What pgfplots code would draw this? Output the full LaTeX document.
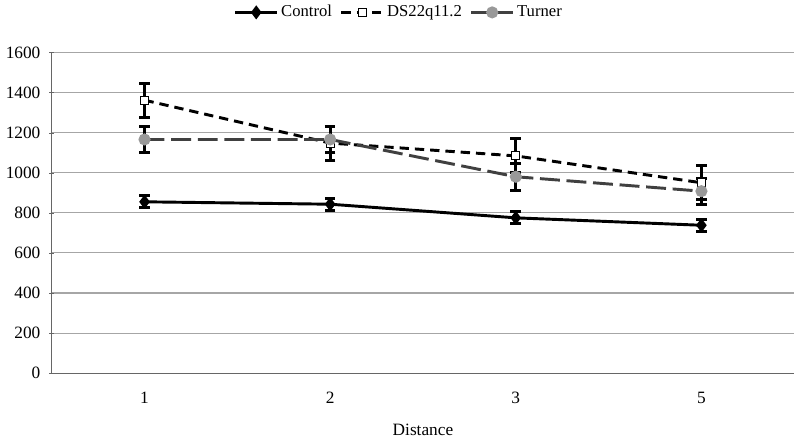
\documentclass[border=0pt]{standalone}
\usepackage{fontspec}
\setmainfont{Liberation Serif}
\usepackage{pgfplots}
\pgfplotsset{compat=1.18}

\definecolor{turner}{HTML}{404040}
\definecolor{turnermark}{HTML}{999999}

\begin{document}
\fontsize{13}{15}\selectfont
\begin{tikzpicture}
\begin{axis}[
    scale only axis, width=558pt, height=241pt,
    xmin=-0.5, xmax=3.5, ymin=0, ymax=1600,
    xtick={0,1,2,3}, xticklabels={1,2,3,5},
    major x tick style={draw=none},
    extra x ticks={-0.5,0.5,1.5,2.5,3.5}, extra x tick labels={},
    extra x tick style={major tick length=4pt, tick style={gray!80!black}, grid=none},
    ytick={0,200,...,1600},
    tick align=outside, major tick length=4pt,
    ytick style={gray!80!black},
    axis lines=left, axis line style={-, gray!80!black},
    ymajorgrids, grid style={gray!70, line width=0.8pt},
    xlabel={Distance},
    xlabel style={yshift=-2pt},
    ticklabel style={font=\fontsize{13}{15}\selectfont},
    yticklabel style={xshift=-2pt},
    xticklabel style={yshift=-8pt},
    /pgf/number format/assume math mode=true,
    /pgf/number format/1000 sep={},
    legend style={at={(0.468,1.125)}, anchor=center, draw=none, fill=none,
        legend columns=3, font=\fontsize{12.5}{14}\selectfont,
        /tikz/every even column/.append style={column sep=4pt}},
    legend cell align=left,
    legend image code/.code={
        \draw[mark repeat=2,mark phase=2] plot coordinates {(0cm,0cm) (0.55cm,0cm) (1.1cm,0cm)};},
    error bars/y dir=both, error bars/y explicit,
    error bars/error bar style={line width=2.2pt, black, solid},
    error bars/error mark options={rotate=90, mark size=4pt, line width=2.2pt, black, solid},
]
\addplot[black, line width=2.2pt, mark=diamond*, mark size=3.5pt, mark options={solid, fill=black}]
  coordinates {(0,855) +- (0,30) (1,843) +- (0,30) (2,775) +- (0,30) (3,738) +- (0,30)};
\addlegendentry{Control}
\addplot[black, line width=2.2pt, dash pattern=on 7pt off 4.5pt, mark=square*, mark size=3pt, mark options={solid, fill=white, draw=black, line width=0.8pt}]
  coordinates {(0,1362) +- (0,85) (1,1148) +- (0,85) (2,1084) +- (0,85) (3,950) +- (0,85)};
\addlegendentry{DS22q11.2}
\addplot[turner, line width=2.2pt, dash pattern=on 15pt off 5pt, mark=*, mark size=3.4pt, mark options={solid, fill=turnermark, draw=turnermark}]
  coordinates {(0,1166) +- (0,67) (1,1166) +- (0,67) (2,980) +- (0,67) (3,908) +- (0,65)};
\addlegendentry{Turner}
\end{axis}
\end{tikzpicture}
\end{document}
